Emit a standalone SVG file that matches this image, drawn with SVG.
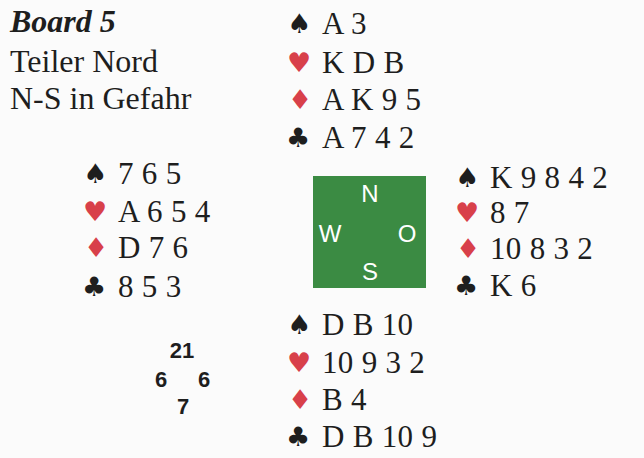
<svg xmlns="http://www.w3.org/2000/svg" width="644" height="458" viewBox="0 0 644 458">
<style>
.t{font-family:"Liberation Serif","Times New Roman",serif;font-size:32px;fill:#1e1e1e}
.c{font-family:"Liberation Serif","Times New Roman",serif;font-size:31px;fill:#1e1e1e;letter-spacing:0.3px}
.s{font-family:"DejaVu Sans",sans-serif;font-size:27px}
.bk{fill:#1e1e1e}
.rd{fill:#d8404a}
.cmp{font-family:"Liberation Sans",Arial,sans-serif;font-size:24px;fill:#ffffff;text-anchor:middle}
.hcp{font-family:"Liberation Sans",Arial,sans-serif;font-size:22px;font-weight:bold;fill:#1e1e1e;text-anchor:middle}
</style>
<rect x="0" y="0" width="644" height="458" fill="#fbfbfb"/>
<g id="header">
<text class="t" x="10" y="32" font-weight="bold" font-style="italic">Board 5</text>
<text class="t" x="10" y="72">Teiler Nord</text>
<text class="t" x="10" y="109">N-S in Gefahr</text>
</g>
<g id="north">
<text class="s bk" x="287" y="33">♠</text><text class="c" x="322" y="34">A 3</text>
<text class="s rd" x="287" y="72">♥</text><text class="c" x="322" y="73">K D B</text>
<text class="s rd" x="288" y="109">♦</text><text class="c" x="322" y="110">A K 9 5</text>
<text class="s bk" x="286" y="147">♣</text><text class="c" x="322" y="148">A 7 4 2</text>
</g>
<g id="west">
<text class="s bk" x="83" y="183">♠</text><text class="c" x="118" y="184">7 6 5</text>
<text class="s rd" x="83" y="221">♥</text><text class="c" x="118" y="222">A 6 5 4</text>
<text class="s rd" x="84" y="257">♦</text><text class="c" x="118" y="258">D 7 6</text>
<text class="s bk" x="82" y="296">♣</text><text class="c" x="118" y="297">8 5 3</text>
</g>
<g id="compass">
<rect x="313" y="176" width="113" height="112" fill="#3b8b43"/>
<text class="cmp" x="370" y="202">N</text>
<text class="cmp" x="330" y="242">W</text>
<text class="cmp" x="407" y="242">O</text>
<text class="cmp" x="370" y="280">S</text>
</g>
<g id="east">
<text class="s bk" x="455" y="187">♠</text><text class="c" x="490" y="188">K 9 8 4 2</text>
<text class="s rd" x="455" y="222">♥</text><text class="c" x="490" y="223">8 7</text>
<text class="s rd" x="456" y="258">♦</text><text class="c" x="490" y="259">10 8 3 2</text>
<text class="s bk" x="454" y="295">♣</text><text class="c" x="490" y="296">K 6</text>
</g>
<g id="south">
<text class="s bk" x="287" y="334">♠</text><text class="c" x="322" y="335">D B 10</text>
<text class="s rd" x="287" y="372">♥</text><text class="c" x="322" y="373">10 9 3 2</text>
<text class="s rd" x="288" y="409">♦</text><text class="c" x="322" y="410">B 4</text>
<text class="s bk" x="286" y="446">♣</text><text class="c" x="322" y="447">D B 10 9</text>
</g>
<g id="hcp">
<text class="hcp" x="182" y="358">21</text>
<text class="hcp" x="161" y="387">6</text>
<text class="hcp" x="204" y="387">6</text>
<text class="hcp" x="183" y="414">7</text>
</g>
</svg>
